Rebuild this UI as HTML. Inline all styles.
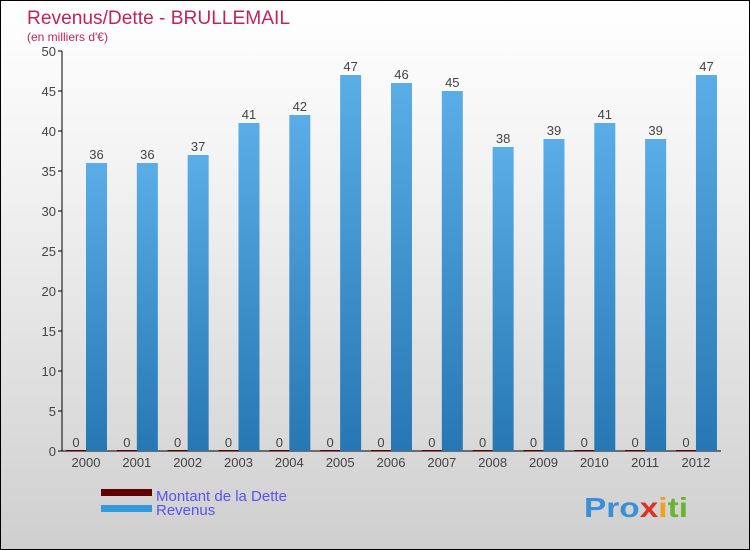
<!DOCTYPE html>
<html><head><meta charset="utf-8"><style>
body{margin:0}
#c{position:relative;width:750px;height:550px;box-sizing:border-box;border:1px solid #000;background:linear-gradient(#fff,#f3f3f3 30%,#cfcfcf);font-family:"Liberation Sans",sans-serif;overflow:hidden}
</style></head><body>
<div id="c">
<svg width="750" height="550" style="position:absolute;left:0;top:0">
<defs><linearGradient id="bg" x1="0" y1="0" x2="0" y2="1"><stop offset="0" stop-color="#5aade6"/><stop offset="1" stop-color="#2677b3"/></linearGradient></defs>
<text x="26" y="23" font-size="19" fill="#c0245c" textLength="263" lengthAdjust="spacingAndGlyphs">Revenus/Dette - BRULLEMAIL</text>
<text x="26" y="40" font-size="12" fill="#c0245c">(en milliers d'€)</text>
<g id="g"></g>
<rect x="100" y="488" width="51" height="7" fill="#600000"/>
<rect x="100" y="504" width="51" height="7" fill="#3399dd"/>
<text x="155" y="500" font-size="15" fill="#5555ee">Montant de la Dette</text>
<text x="155" y="514" font-size="15" fill="#5555ee">Revenus</text>
<text x="583" y="516" font-size="28" font-weight="bold" textLength="104" lengthAdjust="spacingAndGlyphs"><tspan fill="#3a8fd8">Pro</tspan><tspan fill="#e0301e">x</tspan><tspan fill="#f0a020">i</tspan><tspan fill="#6ab32e">ti</tspan></text>
</svg></div>
<script>
const years=["2000","2001","2002","2003","2004","2005","2006","2007","2008","2009","2010","2011","2012"];
const revenus=[36,36,37,41,42,47,46,45,38,39,41,39,47];
const dette=[0,0,0,0,0,0,0,0,0,0,0,0,0];
const yTicks=[0,5,10,15,20,25,30,35,40,45,50];
const NS="http://www.w3.org/2000/svg",g=document.getElementById('g');
const y=v=>450-v*8, x=i=>85+i*50.83;
function mk(t,a,txt){const e=document.createElementNS(NS,t);for(const k in a)e.setAttribute(k,a[k]);if(txt!==undefined)e.textContent=txt;g.appendChild(e);return e;}
let e=mk('line',{x1:61,y1:50,x2:61,y2:450,stroke:'#000'});

e=mk('line',{x1:61,y1:450,x2:720,y2:450,stroke:'#000'});

yTicks.forEach(t=>{
 e=mk('line',{x1:57,y1:y(t),x2:61,y2:y(t),stroke:'#000'});
 
 e=mk('text',{x:55,y:y(t)+5,'font-size':13,fill:'#444','text-anchor':'end'},t);
 
});
years.forEach((yr,i)=>{
 const cx=x(i);
 e=mk('rect',{x:cx-20,y:y(dette[i])-1,width:20,height:dette[i]*8+1,fill:'#600000'});
 
 e=mk('text',{x:cx-10,y:y(dette[i])-4,'font-size':13,fill:'#444','text-anchor':'middle'},dette[i]);
 
 e=mk('rect',{x:cx,y:y(revenus[i]),width:21,height:revenus[i]*8,fill:'url(#bg)'});
 
 e=mk('text',{x:cx+10.5,y:y(revenus[i])-4,'font-size':13,fill:'#444','text-anchor':'middle'},revenus[i]);
 
 e=mk('text',{x:cx,y:466,'font-size':13,fill:'#444','text-anchor':'middle'},yr);
 
});
</script>
</body></html>
